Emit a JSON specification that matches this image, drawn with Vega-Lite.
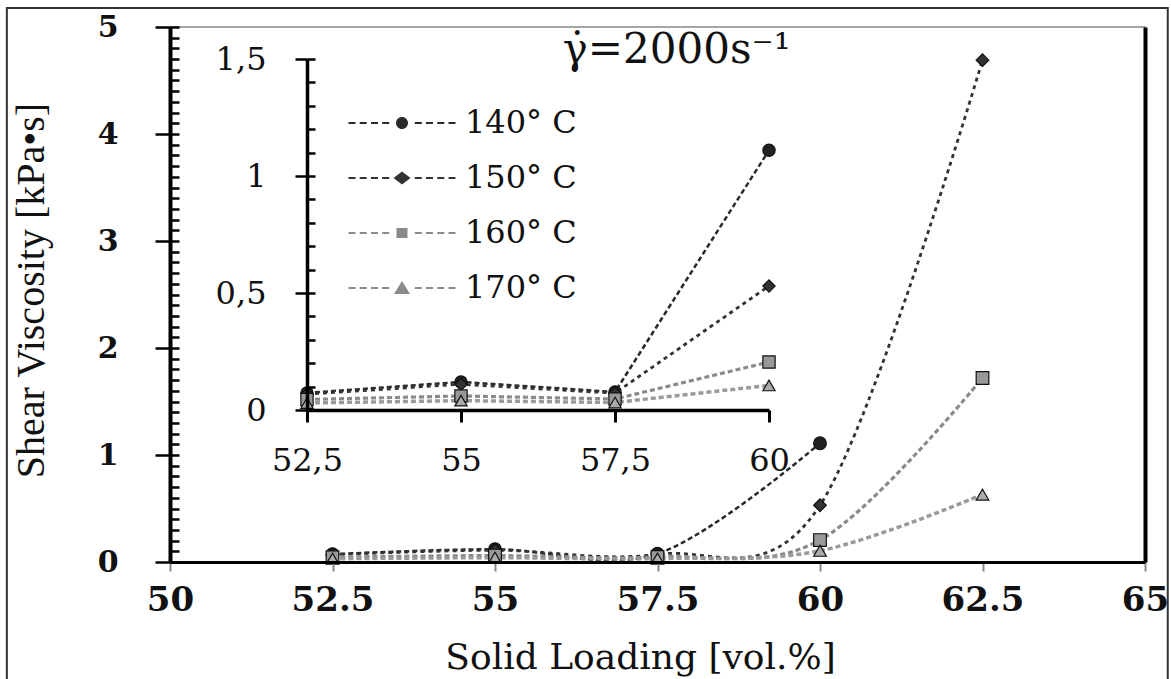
{
  "$schema": "https://vega.github.io/schema/vega-lite/v6.json",
  "width": 975,
  "height": 535,
  "autosize": {"type": "none"},
  "padding": {"left": 170, "top": 27, "right": 26, "bottom": 117},
  "background": "white",
  "config": {
    "view": {"stroke": "#888", "strokeWidth": 1.5},
    "axis": {"grid": false, "labelOverlap": false, "labelFlush": false},
    "font": "DejaVu Serif"
  },
  "datasets": {
    "visc": [
      {"load": 52.5, "viscosity": 0.073, "temp": "140° C"},
      {"load": 55, "viscosity": 0.12, "temp": "140° C"},
      {"load": 57.5, "viscosity": 0.077, "temp": "140° C"},
      {"load": 60, "viscosity": 1.11, "temp": "140° C"},
      {"load": 52.5, "viscosity": 0.068, "temp": "150° C"},
      {"load": 55, "viscosity": 0.11, "temp": "150° C"},
      {"load": 57.5, "viscosity": 0.072, "temp": "150° C"},
      {"load": 60, "viscosity": 0.53, "temp": "150° C"},
      {"load": 62.5, "viscosity": 4.69, "temp": "150° C"},
      {"load": 52.5, "viscosity": 0.045, "temp": "160° C"},
      {"load": 55, "viscosity": 0.06, "temp": "160° C"},
      {"load": 57.5, "viscosity": 0.047, "temp": "160° C"},
      {"load": 60, "viscosity": 0.205, "temp": "160° C"},
      {"load": 62.5, "viscosity": 1.72, "temp": "160° C"},
      {"load": 52.5, "viscosity": 0.03, "temp": "170° C"},
      {"load": 55, "viscosity": 0.04, "temp": "170° C"},
      {"load": 57.5, "viscosity": 0.032, "temp": "170° C"},
      {"load": 60, "viscosity": 0.105, "temp": "170° C"},
      {"load": 62.5, "viscosity": 0.63, "temp": "170° C"}
    ]
  },
  "data": {"name": "visc"},
  "layer": [
    {
      "layer": [
        {
          "mark": {"type": "line", "interpolate": "cardinal", "tension": 0},
          "encoding": {
            "x": {
              "field": "load", "type": "quantitative",
              "scale": {"domain": [50, 65], "nice": false, "zero": false},
              "axis": {
                "orient": "bottom", "zindex": 2,
                "values": [50, 52.5, 55, 57.5, 60, 62.5, 65],
                "format": "~g", "labelOverlap": false,
                "labelFont": "DejaVu Serif", "labelFontWeight": "bold", "labelFontSize": 34,
                "labelColor": "#111", "labelPadding": 12,
                "tickSize": 9, "tickColor": "#888", "tickWidth": 2,
                "domainColor": "#000", "domainWidth": 3,
                "title": "Solid Loading [vol.%]",
                "titleFont": "DejaVu Serif", "titleFontSize": 36, "titleFontWeight": "normal",
                "titleColor": "#111", "titleBaseline": "alphabetic", "titleY": 106,
                "titleX": 470, "titleAlign": "center"
              }
            },
            "y": {
              "field": "viscosity", "type": "quantitative",
              "scale": {"domain": [0, 5], "nice": false},
              "axis": {
                "orient": "left", "zindex": 2,
                "values": [0,0.1,0.2,0.3,0.4,0.5,0.6,0.7,0.8,0.9,1,1.1,1.2,1.3,1.4,1.5,1.6,1.7,1.8,1.9,2,2.1,2.2,2.3,2.4,2.5,2.6,2.7,2.8,2.9,3,3.1,3.2,3.3,3.4,3.5,3.6,3.7,3.8,3.9,4,4.1,4.2,4.3,4.4,4.5,4.6,4.7,4.8,4.9,5],
                "tickCount": 100, "labelOverlap": false,
                "labelExpr": "abs(datum.value - round(datum.value)) < 0.001 ? format(round(datum.value), 'd') : ''",
                "tickSize": 15, "tickWidth": 2.5,
                "tickColor": {"condition": {"test": "abs(datum.value - round(datum.value)) < 0.001", "value": "#000"}, "value": "transparent"},
                "grid": true, "gridColor": "#000", "gridWidth": 2.5, "gridOpacity": 1, "gridDash": [9, 3000],
                "domainColor": "#000", "domainWidth": 4,
                "labelFont": "DejaVu Serif", "labelFontWeight": "bold", "labelFontSize": 30,
                "labelColor": "#111", "labelPadding": 37,
                "title": "Shear Viscosity [kPa•s]",
                "titleFont": "Liberation Serif", "titleFontSize": 40, "titleFontWeight": "normal",
                "titleColor": "#111", "titleX": -139, "titleY": 263, "titleBaseline": "middle", "titleAngle": 270
              }
            },
            "stroke": {
              "field": "temp", "type": "nominal", "legend": null,
              "scale": {"domain": ["140° C", "150° C", "160° C", "170° C"], "range": ["#2a2a2a", "#333333", "#8a8a8a", "#9a9a9a"]}
            },
            "strokeDash": {
              "field": "temp", "type": "nominal", "legend": null,
              "scale": {"domain": ["140° C", "150° C", "160° C", "170° C"], "range": [[5, 3], [4, 4], [5, 3], [5, 3]]}
            },
            "strokeWidth": {
              "field": "temp", "type": "nominal", "legend": null,
              "scale": {"domain": ["140° C", "150° C", "160° C", "170° C"], "range": [2.5, 3.5, 2, 2]}
            }
          }
        },
        {
          "mark": {"type": "point", "filled": true, "size": 160, "stroke": "#111", "strokeWidth": 1.2, "opacity": 1},
          "encoding": {
            "x": {"field": "load", "type": "quantitative"},
            "y": {"field": "viscosity", "type": "quantitative"},
            "shape": {
              "field": "temp", "type": "nominal", "legend": null,
              "scale": {"domain": ["140° C", "150° C", "160° C", "170° C"], "range": ["circle", "diamond", "square", "triangle-up"]}
            },
            "fill": {
              "field": "temp", "type": "nominal", "legend": null,
              "scale": {"domain": ["140° C", "150° C", "160° C", "170° C"], "range": ["#222222", "#333333", "#999999", "#aaaaaa"]}
            }
          }
        },
        {
          "data": {"values": [{"frame": "outer"}]},
          "mark": {"type": "rect", "fill": null, "stroke": "#333", "strokeWidth": 2, "clip": false},
          "encoding": {
            "x": {"datum": 47.49, "type": "quantitative"},
            "x2": {"datum": 65.35},
            "y": {"datum": 5.178, "type": "quantitative"},
            "y2": {"datum": -1.5}
          }
        }
      ]
    },
    {
      "layer": [
        {
          "transform": [{"filter": "datum.load <= 60"}],
          "mark": {"type": "line"},
          "encoding": {
            "x": {
              "field": "load", "type": "quantitative",
              "scale": {"domain": [52.5, 60], "range": [137, 599], "nice": false, "zero": false},
              "axis": {
                "orient": "bottom", "offset": -152, "zindex": 2,
                "values": [52.5, 55, 57.5, 60], "labelOverlap": false,
                "labelExpr": "replace(format(datum.value, '~g'), '.', ',')",
                "labelFont": "DejaVu Serif", "labelFontSize": 32, "labelColor": "#111", "labelPadding": 23,
                "tickSize": 12, "tickColor": "#000", "tickWidth": 3,
                "domainColor": "#000", "domainWidth": 3.5,
                "title": null
              }
            },
            "y": {
              "field": "viscosity", "type": "quantitative",
              "scale": {"domain": [0, 1.5], "range": [383, 32], "nice": false},
              "axis": {
                "orient": "left", "offset": -137, "zindex": 2,
                "values": [0,0.1,0.2,0.3,0.4,0.5,0.6,0.7,0.8,0.9,1,1.1,1.2,1.3,1.4,1.5],
                "tickCount": 100, "labelOverlap": false,
                "labelExpr": "abs(datum.value * 2 - round(datum.value * 2)) < 0.001 ? replace(format(datum.value, '~g'), '.', ',') : ''",
                "tickSize": 12, "tickWidth": 2.5,
                "tickColor": {"condition": {"test": "abs(datum.value * 2 - round(datum.value * 2)) < 0.001", "value": "#000"}, "value": "transparent"},
                "grid": true, "gridColor": "#000", "gridWidth": 2.5, "gridOpacity": 1, "gridDash": [8, 3000],
                "domainColor": "#000", "domainWidth": 3.5,
                "labelFont": "DejaVu Serif", "labelFontSize": 32, "labelColor": "#111", "labelPadding": 29,
                "title": null
              }
            },
            "stroke": {"field": "temp", "type": "nominal", "legend": null},
            "strokeDash": {
              "field": "temp", "type": "nominal", "legend": null,
              "scale": {"domain": ["140° C", "150° C", "160° C", "170° C"], "range": [[5, 2], [5, 3], [5, 3], [5, 3]]}
            },
            "strokeWidth": {
              "field": "temp", "type": "nominal", "legend": null,
              "scale": {"domain": ["140° C", "150° C", "160° C", "170° C"], "range": [2.5, 2, 2, 2]}
            }
          }
        },
        {
          "transform": [{"filter": "datum.load <= 60"}],
          "mark": {"type": "point", "filled": true, "size": 150, "stroke": "#111", "strokeWidth": 1.2, "opacity": 1},
          "encoding": {
            "x": {"field": "load", "type": "quantitative"},
            "y": {"field": "viscosity", "type": "quantitative"},
            "shape": {
              "field": "temp", "type": "nominal", "legend": null,
              "scale": {"domain": ["140° C", "150° C", "160° C", "170° C"], "range": ["circle", "diamond", "square", "triangle-up"]}
            },
            "fill": {
              "field": "temp", "type": "nominal", "legend": null,
              "scale": {"domain": ["140° C", "150° C", "160° C", "170° C"], "range": ["#222222", "#333333", "#999999", "#aaaaaa"]}
            }
          }
        },
        {
          "data": {"values": [{"rate": "γ̇=2000s⁻¹"}]},
          "mark": {"type": "text", "font": "DejaVu Serif", "fontSize": 42, "align": "center", "baseline": "middle", "color": "#111"},
          "encoding": {
            "x": {"datum": 58.5, "type": "quantitative"},
            "y": {"datum": 1.54, "type": "quantitative"},
            "text": {"field": "rate"}
          }
        },
        {
          "transform": [{"filter": "false"}],
          "mark": {"type": "point", "filled": true, "opacity": 1},
          "encoding": {
            "x": {"field": "load", "type": "quantitative"},
            "y": {"field": "viscosity", "type": "quantitative"},
            "shape": {
              "field": "temp", "type": "nominal",
              "scale": {
                "domain": ["140° C", "150° C", "160° C", "170° C"],
                "range": [
                  "M-5.35,-0.11H-4.65V0.11H-5.35Z M-4.23,-0.11H-3.53V0.11H-4.23Z M-3.1,-0.11H-2.4V0.11H-3.1Z M-1.98,-0.11H-1.28V0.11H-1.98Z M1.28,-0.11H1.98V0.11H1.28Z M2.4,-0.11H3.1V0.11H2.4Z M3.53,-0.11H4.23V0.11H3.53Z M4.65,-0.11H5.35V0.11H4.65Z M-0.6,0A0.6,0.6,0,1,0,0.6,0A0.6,0.6,0,1,0,-0.6,0Z",
                  "M-5.35,-0.11H-4.65V0.11H-5.35Z M-4.23,-0.11H-3.53V0.11H-4.23Z M-3.1,-0.11H-2.4V0.11H-3.1Z M-1.98,-0.11H-1.28V0.11H-1.98Z M1.28,-0.11H1.98V0.11H1.28Z M2.4,-0.11H3.1V0.11H2.4Z M3.53,-0.11H4.23V0.11H3.53Z M4.65,-0.11H5.35V0.11H4.65Z M-0.85,0L0,-0.65L0.85,0L0,0.65Z",
                  "M-5.35,-0.11H-4.65V0.11H-5.35Z M-4.23,-0.11H-3.53V0.11H-4.23Z M-3.1,-0.11H-2.4V0.11H-3.1Z M-1.98,-0.11H-1.28V0.11H-1.98Z M1.28,-0.11H1.98V0.11H1.28Z M2.4,-0.11H3.1V0.11H2.4Z M3.53,-0.11H4.23V0.11H3.53Z M4.65,-0.11H5.35V0.11H4.65Z M-0.55,-0.5H0.55V0.5H-0.55Z",
                  "M-5.35,-0.11H-4.65V0.11H-5.35Z M-4.23,-0.11H-3.53V0.11H-4.23Z M-3.1,-0.11H-2.4V0.11H-3.1Z M-1.98,-0.11H-1.28V0.11H-1.98Z M1.28,-0.11H1.98V0.11H1.28Z M2.4,-0.11H3.1V0.11H2.4Z M3.53,-0.11H4.23V0.11H3.53Z M4.65,-0.11H5.35V0.11H4.65Z M-0.8,0.6L0,-0.7L0.8,0.6Z"
                ]
              },
              "legend": {
                "orient": "none", "legendX": 216, "legendY": 80,
                "title": null,
                "symbolSize": 400, "symbolOpacity": 1,
                "labelFont": "DejaVu Serif", "labelFontSize": 32, "labelColor": "#111",
                "labelOffset": 47, "rowPadding": 23, "padding": 0
              }
            },
            "fill": {
              "field": "temp", "type": "nominal",
              "scale": {"domain": ["140° C", "150° C", "160° C", "170° C"], "range": ["#2a2a2a", "#333333", "#8a8a8a", "#8a8a8a"]}
            }
          }
        }
      ],
      "resolve": {
        "scale": {"shape": "independent", "fill": "independent"},
        "legend": {"shape": "independent", "fill": "independent"}
      }
    },
    {
      "transform": [{"filter": "false"}],
      "mark": {"type": "point"},
      "encoding": {
        "y": {
          "field": "viscosity", "type": "quantitative",
          "scale": {"domain": [0, 5], "nice": false},
          "axis": {"orient": "right", "zindex": 2, "domainColor": "#000", "domainWidth": 4, "ticks": false, "labels": false, "title": null}
        }
      }
    }
  ],
  "resolve": {
    "scale": {"x": "independent", "y": "independent", "shape": "independent", "fill": "independent"},
    "axis": {"x": "independent", "y": "independent"},
    "legend": {"shape": "independent", "fill": "independent"}
  }
}
